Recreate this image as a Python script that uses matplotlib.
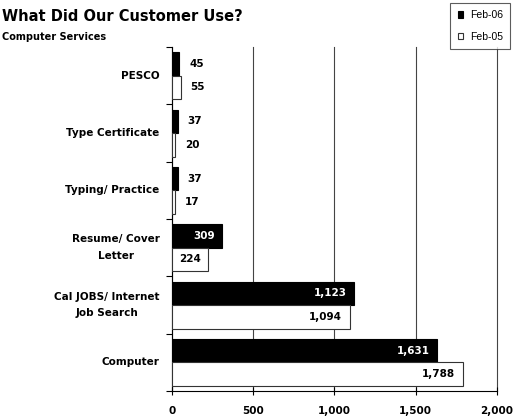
import numpy as np
import matplotlib.pyplot as plt
import matplotlib

matplotlib.rcParams.update({
    "font.family": ["DejaVu Sans"],
    "font.weight": "bold",
})

categories = ["PESCO", "Type Certificate", "Typing/ Practice",
              "Resume/ Cover\nLetter", "Cal JOBS/ Internet\nJob Search", "Computer"]
feb06 = [45, 37, 37, 309, 1123, 1631]
feb05 = [55, 20, 17, 224, 1094, 1788]
xticks = [0, 500, 1000, 1500, 2000]

fig = plt.figure(figsize=(5.14, 4.19), dpi=100)
ax = fig.add_axes([0.3346, 0.0668, 0.6323, 0.821])

y = np.arange(len(categories))
h = 0.41
b06 = ax.barh(y - h / 2, feb06, height=h, color="black", edgecolor="black",
              linewidth=0.8, label="Feb-06", zorder=3)
b05 = ax.barh(y + h / 2, feb05, height=h, color="white", edgecolor="#333333",
              linewidth=0.8, label="Feb-05", zorder=3)

ax.set_xlim(0, 2000)
ax.set_ylim(len(categories) - 0.5, -0.5)

# value labels: inside the bar end when there is room, outside otherwise
for bars, vals, inner in ((b06, feb06, "white"), (b05, feb05, "black")):
    for bar, v in zip(bars, vals):
        yc = bar.get_y() + bar.get_height() / 2
        if v > 150:
            ax.annotate(f"{v:,}", (v, yc), xytext=(-5.5, 0), textcoords="offset points",
                        ha="right", va="center", color=inner, fontsize=7.5, zorder=4)
        else:
            ax.annotate(f"{v:,}", (v, yc), xytext=(7, 0), textcoords="offset points",
                        ha="left", va="center", color="black", fontsize=7.5, zorder=4)

# category labels sit left of the axis, ticks mark the band boundaries
ax.set_yticks(np.arange(-0.5, len(categories)))
ax.set_yticklabels([])
ax.tick_params(axis="y", length=4, width=0.8, direction="out")
for yi, name in zip(y, categories):
    ax.annotate(name, (0, yi), xycoords=("axes fraction", "data"), xytext=(-9, 0),
                textcoords="offset points", ha="right", va="center",
                multialignment="center", fontsize=7.5, linespacing=1.85)

ax.set_xticks(xticks)
ax.set_xticklabels([f"{t:,}" for t in xticks], fontsize=7.5)
ax.tick_params(axis="x", length=6, width=0.8, direction="inout", pad=8)

ax.grid(axis="x", color="#444444", linewidth=0.8)
for gl in ax.get_xgridlines():
    gl.set_clip_on(False)  # keep the 2000 line whole at the right edge
ax.set_axisbelow(True)
for side in ("top", "right"):
    ax.spines[side].set_visible(False)
for side in ("left", "bottom"):
    ax.spines[side].set_linewidth(0.8)

fig.text(0.004, 1 - 16.5 / 419, "What Did Our Customer Use?", fontsize=10.5,
         va="center", ha="left")
fig.text(0.004, 1 - 36.5 / 419, "Computer Services", fontsize=7,
         va="center", ha="left")

leg = fig.legend(handles=[b06, b05], loc="upper right",
                 bbox_to_anchor=(510 / 514, 1 - 3 / 419),
                 borderaxespad=0, fancybox=False, edgecolor="#333333",
                 prop={"family": "Liberation Sans", "weight": "normal", "size": 7.5},
                 handlelength=0.55, handleheight=0.55, handletextpad=0.6,
                 labelspacing=1.1, borderpad=0.7)
leg.get_frame().set_linewidth(0.8)

plt.savefig("out.png", dpi=100)
